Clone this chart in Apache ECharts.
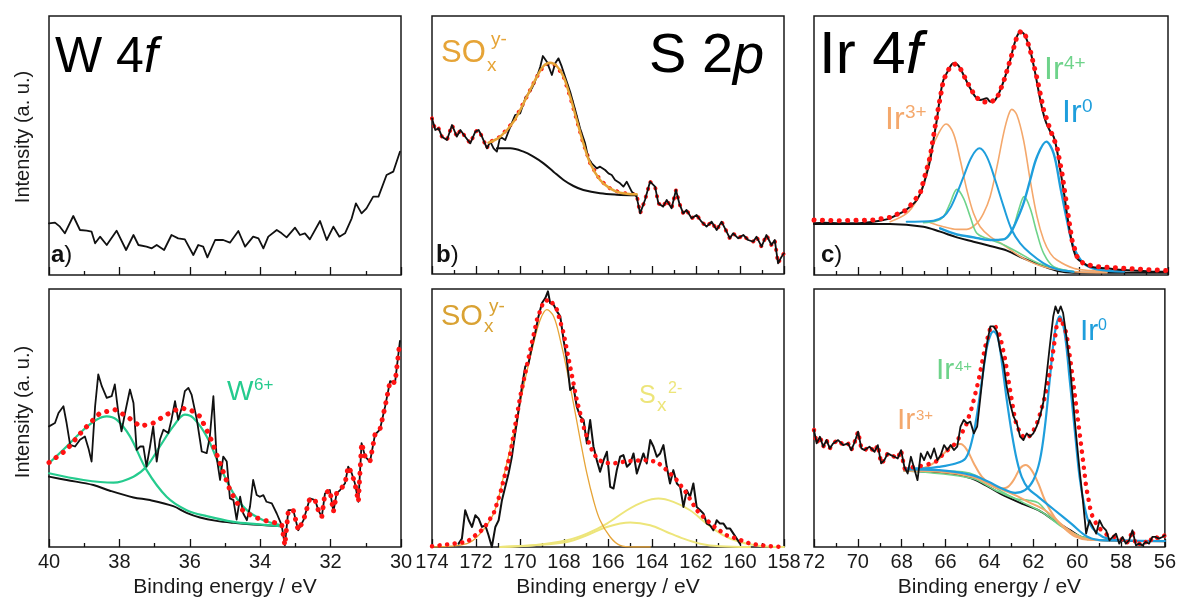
<!DOCTYPE html>
<html>
<head>
<meta charset="utf-8">
<script src="https://cdn.jsdelivr.net/npm/echarts@6/dist/echarts.min.js"></script>
<style>
html,body{margin:0;padding:0;background:#fff;}
#c{width:1179px;height:603px;}
</style>
</head>
<body>
<div id="c"></div>
<script>
// ---------- x-axis ranges (eV) ----------
const W_RANGE = [30, 40];
const S_RANGE = [158, 174];
const IR_RANGE = [56, 72];

// ---------- panel a : W 4f (top) ----------
const a_data = [[40.00,155],[39.83,157],[39.69,145],[39.55,125],[39.31,177],[39.12,135],[38.93,133],[38.79,130],[38.69,95],[38.55,115],[38.36,90],[38.08,133],[37.81,75],[37.60,120],[37.46,90],[37.23,85],[37.08,80],[36.94,90],[36.73,75],[36.52,120],[36.33,110],[36.14,107],[35.90,60],[35.76,90],[35.62,85],[35.50,53],[35.28,105],[35.05,105],[34.86,97],[34.62,132],[34.43,85],[34.20,115],[34.05,110],[33.91,80],[33.77,115],[33.53,135],[33.39,125],[33.25,113],[33.01,142],[32.87,120],[32.73,125],[32.59,107],[32.30,162],[32.11,105],[31.92,145],[31.75,115],[31.59,125],[31.40,170],[31.28,215],[31.12,185],[30.98,200],[30.79,235],[30.64,235],[30.41,300],[30.22,310],[30.03,370]];

// ---------- panel b : S 2p (top) ----------
const b_data = [[174.00,467],[173.85,432],[173.70,437],[173.55,412],[173.32,402],[173.09,447],[172.87,412],[172.71,432],[172.49,412],[172.26,392],[172.03,427],[171.88,432],[171.73,412],[171.50,377],[171.35,397],[171.20,377],[171.05,367],[170.90,412],[170.67,402],[170.44,442],[170.22,477],[169.99,482],[169.76,527],[169.46,557],[169.23,592],[169.08,622],[168.96,654],[168.78,637],[168.55,597],[168.40,632],[168.25,647],[168.10,622],[167.95,592],[167.72,547],[167.49,492],[167.27,437],[167.04,392],[166.89,347],[166.74,332],[166.51,317],[166.36,322],[166.13,312],[165.98,302],[165.83,297],[165.68,282],[165.45,272],[165.30,262],[165.15,277],[164.92,247],[164.70,232],[164.54,182],[164.32,222],[164.09,277],[163.86,262],[163.71,212],[163.49,202],[163.33,222],[163.11,197],[162.91,252],[162.76,212],[162.58,182],[162.43,192],[162.20,167],[161.97,177],[161.75,157],[161.52,142],[161.29,157],[161.06,132],[160.84,157],[160.61,127],[160.46,107],[160.31,122],[160.08,107],[159.85,117],[159.63,102],[159.40,97],[159.25,112],[159.02,82],[158.80,117],[158.57,87],[158.42,102],[158.27,32],[158.11,52],[158.00,62]];
const b_fit = [[171.43,394],[170.90,412],[170.29,457],[169.69,532],[169.23,592],[168.93,624],[168.63,634],[168.33,624],[168.02,592],[167.72,532],[167.42,462],[167.12,392],[166.81,332],[166.36,282],[165.91,257],[165.45,244],[164.70,239]];
const b_bkg = [[171.05,377],[170.44,377],[169.84,367],[169.39,352],[168.93,332],[168.48,307],[168.02,282],[167.57,264],[167.12,252],[166.36,242],[165.60,238],[164.70,236]];

// ---------- panel c : Ir 4f (top) ----------
const c_data = [[72.00,155],[71.58,157],[70.82,155],[70.07,155],[69.32,160],[68.86,165],[68.56,170],[68.26,180],[67.96,190],[67.66,205],[67.35,225],[67.13,255],[66.90,305],[66.75,345],[66.60,405],[66.45,465],[66.30,535],[66.15,585],[65.92,615],[65.70,635],[65.54,633],[65.39,620],[65.17,590],[64.94,560],[64.71,535],[64.49,525],[64.19,530],[64.04,520],[63.81,525],[63.58,555],[63.36,595],[63.13,645],[62.98,685],[62.83,715],[62.68,730],[62.53,725],[62.38,705],[62.23,675],[62.00,605],[61.77,525],[61.55,465],[61.32,430],[61.17,415],[61.02,375],[60.87,315],[60.72,255],[60.57,185],[60.42,125],[60.27,75],[60.11,50],[59.81,35],[59.51,25],[58.76,20],[58.00,15],[57.25,13],[56.49,10],[56.00,10]];
const c_env = [[72.00,165],[70.82,163],[69.32,165],[68.56,173],[67.81,195],[67.20,245],[66.75,355],[66.45,475],[66.15,585],[65.85,625],[65.62,633],[65.39,620],[65.09,580],[64.71,535],[64.41,520],[64.04,517],[63.73,530],[63.43,580],[63.13,645],[62.83,715],[62.65,732],[62.45,720],[62.23,675],[61.92,590],[61.62,495],[61.32,435],[61.02,385],[60.79,305],[60.57,205],[60.34,105],[60.11,55],[59.81,33],[59.21,25],[58.00,20],[56.00,13]];
const c_bkg = [[72.00,153],[68.56,153],[67.05,145],[66.30,130],[65.54,113],[64.79,100],[64.04,87],[63.28,73],[62.53,50],[61.77,30],[61.02,13],[60.27,7],[56.00,7]];
const c_ir3a = [[68.56,160],[67.81,185],[67.35,225],[67.05,275],[66.75,365],[66.37,425],[66.03,453],[65.70,425],[65.39,345],[65.09,255],[64.79,185],[64.49,145],[64.04,115],[63.43,90],[62.53,50],[61.62,25],[60.27,10],[58.76,7]];
const c_ir3b = [[66.75,157],[66.15,145],[65.54,137],[65.09,137],[64.64,155],[64.34,185],[64.04,235],[63.73,325],[63.43,425],[63.21,480],[63.06,497],[62.83,480],[62.53,405],[62.23,285],[61.92,175],[61.62,105],[61.32,65],[61.02,45],[60.27,20],[59.51,13],[58.76,10]];
const c_ir0a = [[67.81,160],[66.60,163],[66.15,175],[65.85,200],[65.54,245],[65.24,295],[64.87,355],[64.52,380],[64.19,355],[63.81,285],[63.43,205],[63.06,135],[62.68,95],[62.23,65],[61.62,35],[61.02,17],[60.27,10]];
const c_ir0b = [[66.30,140],[65.54,122],[64.79,113],[64.04,105],[63.43,107],[63.13,125],[62.83,165],[62.53,215],[62.23,285],[61.92,355],[61.50,400],[61.17,365],[60.87,265],[60.57,165],[60.27,85],[59.81,35],[59.21,17],[58.00,10]];
const c_ir4a = [[67.05,157],[66.45,163],[66.15,175],[65.85,215],[65.54,257],[65.24,230],[64.94,175],[64.64,125],[64.19,110],[63.58,95],[62.83,70],[61.77,33],[60.27,10]];
const c_ir4b = [[65.54,120],[64.79,113],[64.04,105],[63.43,107],[63.06,130],[62.75,195],[62.50,235],[62.23,200],[61.92,125],[61.62,65],[61.17,25],[60.27,10]];

// ---------- panel d : W 4f (bottom) ----------
const d_data = [[40.00,360],[39.83,370],[39.73,400],[39.59,420],[39.50,370],[39.40,305],[39.26,300],[39.12,320],[38.98,330],[38.88,295],[38.79,255],[38.69,420],[38.60,515],[38.50,480],[38.36,445],[38.22,450],[38.13,485],[38.03,400],[37.94,345],[37.84,400],[37.70,470],[37.60,430],[37.51,290],[37.41,300],[37.32,300],[37.23,240],[37.13,300],[37.04,360],[36.94,255],[36.85,320],[36.75,350],[36.61,340],[36.52,380],[36.42,435],[36.33,380],[36.23,415],[36.14,465],[36.04,475],[35.95,455],[35.80,380],[35.66,285],[35.52,280],[35.43,330],[35.33,450],[35.24,270],[35.14,200],[35.05,270],[34.95,255],[34.86,145],[34.76,140],[34.67,82],[34.57,150],[34.48,100],[34.38,80],[34.29,120],[34.20,200],[34.10,155],[34.01,150],[33.91,155],[33.82,135],[33.67,130],[33.53,100],[33.39,65],[33.30,5],[33.20,110],[33.06,110],[32.92,50],[32.77,80],[32.59,145],[32.44,140],[32.35,110],[32.25,90],[32.16,160],[32.02,170],[31.92,105],[31.83,160],[31.73,170],[31.59,190],[31.50,240],[31.40,220],[31.31,190],[31.21,135],[31.12,310],[31.02,270],[30.88,255],[30.74,335],[30.60,350],[30.45,420],[30.31,495],[30.17,490],[30.03,615]];
const d_env = [[40.00,252],[39.50,290],[39.02,350],[38.55,400],[38.13,410],[37.79,390],[37.41,360],[37.04,370],[36.66,395],[36.28,415],[35.99,410],[35.71,390],[35.43,330],[35.14,250],[34.86,170],[34.57,115],[34.20,90],[33.82,78],[33.39,68]];
const d_w6a = [[40.00,250],[39.50,300],[39.02,350],[38.65,380],[38.36,390],[38.08,380],[37.70,330],[37.23,230],[36.66,150],[36.09,110],[35.52,92],[34.76,75],[34.10,68],[33.39,62]];
const d_w6b = [[40.00,220],[39.02,200],[38.17,192],[37.60,210],[37.23,240],[36.85,300],[36.47,360],[36.14,395],[35.90,385],[35.52,330],[35.14,240],[34.76,160],[34.38,110],[33.91,80],[33.39,65]];
const d_bkg = [[40.00,210],[39.50,200],[38.74,185],[38.27,168],[37.60,148],[37.13,140],[36.47,122],[36.09,102],[35.71,88],[35.24,78],[34.76,72],[34.20,67],[33.39,62]];

// ---------- panel e : S 2p (bottom) ----------
const e_data = [[172.79,10],[172.64,25],[172.49,110],[172.33,80],[172.18,60],[172.03,95],[171.88,85],[171.73,60],[171.58,65],[171.43,35],[171.28,0],[171.12,60],[170.97,80],[170.82,140],[170.67,180],[170.52,220],[170.37,270],[170.22,340],[170.06,410],[169.91,480],[169.76,540],[169.61,550],[169.46,600],[169.31,640],[169.16,690],[169.00,730],[168.85,745],[168.73,765],[168.63,730],[168.47,725],[168.32,705],[168.17,690],[168.02,620],[167.87,560],[167.72,470],[167.57,480],[167.42,420],[167.26,390],[167.11,380],[166.96,310],[166.81,380],[166.66,300],[166.51,260],[166.36,225],[166.20,260],[166.05,285],[165.90,180],[165.75,175],[165.60,230],[165.45,270],[165.30,275],[165.14,240],[164.99,250],[164.84,280],[164.69,220],[164.54,250],[164.39,280],[164.24,250],[164.08,320],[163.93,300],[163.78,270],[163.63,280],[163.48,305],[163.33,240],[163.18,190],[163.03,230],[162.87,190],[162.72,180],[162.57,120],[162.42,170],[162.27,150],[162.12,190],[161.97,120],[161.81,110],[161.66,100],[161.51,70],[161.36,65],[161.21,50],[161.06,80],[160.91,70],[160.75,70],[160.60,55],[160.45,55],[160.30,40],[160.15,25],[160.00,10]];
const e_env = [[174.00,2],[172.41,15],[171.65,55],[171.20,100],[170.90,160],[170.44,280],[169.99,450],[169.53,590],[169.23,680],[168.93,735],[168.63,740],[168.32,710],[168.02,640],[167.72,540],[167.42,440],[167.11,360],[166.81,300],[166.51,265],[166.20,252],[165.75,250],[165.30,255],[164.84,258],[164.24,260],[163.78,255],[163.33,230],[162.87,200],[162.42,160],[161.97,110],[161.51,80],[161.06,55],[160.60,35],[160.15,25],[159.54,10],[158.79,3],[158.00,0]];
const e_sox = [[174.00,0],[172.41,10],[171.81,40],[171.20,100],[170.75,210],[170.29,340],[169.84,480],[169.38,610],[169.08,680],[168.78,710],[168.47,690],[168.17,620],[167.87,530],[167.57,430],[167.26,320],[166.96,220],[166.66,140],[166.36,80],[165.90,30],[165.45,5],[164.84,0],[164.08,0]];
const e_sxa = [[170.90,0],[169.38,5],[167.87,20],[166.96,40],[166.05,70],[165.14,110],[164.39,135],[163.71,145],[163.03,135],[162.27,110],[161.51,70],[160.75,35],[160.00,15],[159.09,3],[158.00,0]];
const e_sxb = [[170.90,0],[169.38,5],[167.87,15],[166.96,35],[166.05,60],[164.99,73],[164.08,65],[163.33,45],[162.57,25],[161.81,10],[160.91,2],[159.54,0]];

// ---------- panel f : Ir 4f (bottom) ----------
const f_data = [[72.00,350],[71.88,310],[71.73,330],[71.58,300],[71.43,320],[71.28,295],[71.13,310],[70.90,320],[70.67,305],[70.45,310],[70.30,290],[70.14,315],[69.99,345],[69.84,295],[69.69,290],[69.47,300],[69.24,285],[69.09,305],[68.94,250],[68.79,260],[68.64,280],[68.49,275],[68.33,270],[68.18,265],[68.03,290],[67.88,240],[67.73,220],[67.58,270],[67.43,235],[67.28,200],[67.13,280],[66.98,260],[66.83,285],[66.68,265],[66.52,295],[66.37,260],[66.22,275],[66.07,305],[65.92,290],[65.77,305],[65.62,290],[65.47,300],[65.32,360],[65.17,380],[65.02,370],[64.87,375],[64.71,340],[64.56,360],[64.41,450],[64.26,540],[64.11,610],[63.96,660],[63.81,660],[63.66,645],[63.51,590],[63.36,550],[63.21,480],[63.06,430],[62.90,390],[62.75,370],[62.60,330],[62.45,320],[62.30,340],[62.15,330],[62.00,340],[61.85,360],[61.70,390],[61.55,430],[61.40,510],[61.25,600],[61.09,690],[60.99,720],[60.87,700],[60.75,720],[60.64,700],[60.49,630],[60.34,550],[60.19,440],[60.04,330],[59.89,230],[59.74,140],[59.59,40],[59.44,80],[59.28,60],[59.13,40],[58.98,80],[58.83,60],[58.68,50],[58.53,20],[58.38,30],[58.23,40],[58.08,10],[57.93,30],[57.78,10],[57.63,20],[57.48,50],[57.32,5],[57.17,10],[57.02,5],[56.87,15],[56.72,10],[56.57,30],[56.42,30],[56.27,25],[56.12,30],[56.00,35]];
const f_env = [[67.88,235],[67.35,240],[66.90,245],[66.45,255],[66.00,285],[65.54,310],[65.09,360],[64.79,420],[64.49,500],[64.19,600],[63.96,655],[63.73,660],[63.51,630],[63.28,560],[63.06,470],[62.83,380],[62.60,340],[62.38,325],[62.08,335],[61.77,380],[61.47,450],[61.17,550],[60.94,660],[60.75,685],[60.49,640],[60.27,540],[60.04,420],[59.81,300],[59.59,180],[59.36,100],[59.06,60],[58.61,35],[58.00,25]];
const f_bkg = [[67.88,228],[67.05,226],[66.30,223],[65.54,218],[64.79,205],[64.04,180],[63.28,152],[62.53,130],[61.77,110],[61.02,78],[60.27,48],[59.81,30],[59.21,22],[58.00,19],[56.00,17]];
const f_ir0a = [[67.88,235],[67.05,235],[66.30,240],[65.54,250],[65.09,265],[64.79,320],[64.56,400],[64.34,500],[64.11,600],[63.93,638],[63.81,645],[63.61,625],[63.43,550],[63.21,440],[62.98,340],[62.75,260],[62.53,210],[62.23,175],[61.77,150],[61.02,110],[60.27,70],[59.51,30],[58.76,20],[58.00,20]];
const f_ir0b = [[67.88,232],[66.30,230],[64.79,215],[64.04,195],[63.43,175],[62.83,162],[62.38,170],[62.00,200],[61.70,260],[61.47,360],[61.25,500],[61.02,640],[60.79,690],[60.57,640],[60.34,500],[60.11,350],[59.89,210],[59.66,120],[59.44,70],[59.06,40],[58.61,25],[58.00,20],[56.00,18]];
const f_ir3a = [[67.88,230],[67.05,235],[66.45,255],[66.00,285],[65.62,305],[65.32,308],[65.02,290],[64.71,250],[64.34,210],[63.88,185],[63.43,172],[62.83,155],[62.23,135],[61.47,110],[60.57,60],[59.81,28],[58.76,20]];
const f_ir3b = [[67.88,228],[66.30,225],[64.79,210],[64.04,188],[63.58,175],[63.21,178],[62.90,200],[62.60,235],[62.35,245],[62.08,230],[61.77,190],[61.47,140],[61.02,88],[60.57,55],[60.11,32],[59.51,22],[58.00,20]];
const f_ir4a = [[67.88,230],[66.30,228],[65.24,225],[64.64,215],[64.04,190],[63.28,160],[62.53,135],[61.62,105],[60.57,55],[59.51,22]];
const f_ir4b = [[67.88,228],[64.79,205],[63.73,170],[62.83,145],[62.23,140],[61.77,132],[61.32,100],[60.72,65],[59.96,35],[59.21,22]];

// y-extent of each panel's plot box (a.u.)
const Y_MAX = [777, 774, 777, 770, 772, 772];

// ---------- colours ----------
const C_BLACK = '#111111', C_RED = '#ff1212';
const C_SOX = '#E6A437', C_SX = '#EDE57A', C_W6 = '#25CB8E';
const C_IR0 = '#1E9EDC', C_IR3 = '#F4A86C', C_IR4 = '#6ED38A';

const FONT = '"Liberation Sans", Arial, sans-serif';

const grids = [
  {left:49, top:16, width:352, height:259},
  {left:432, top:16, width:352, height:258},
  {left:814, top:16, width:354, height:259},
  {left:49, top:289, width:352, height:258},
  {left:432, top:289, width:352, height:258},
  {left:814, top:289, width:354, height:258}
].map(g => Object.assign(g, {show:true, borderColor:'#1a1a1a', borderWidth:1.5, backgroundColor:'#fff'}));

const ranges = [W_RANGE, S_RANGE, IR_RANGE, W_RANGE, S_RANGE, IR_RANGE];
const xAxes = ranges.map((r, i) => {
  const bottom = i >= 3;
  return {
    type:'value', gridIndex:i, min:r[0], max:r[1], interval:2, inverse:true,
    axisLine:{show:false},
    axisTick:{show:true, inside:true, length:8, lineStyle:{color:'#111', width:1.3}},
    minorTick:{show:true, splitNumber:2, length:4, lineStyle:{color:'#111', width:1.3}},
    splitLine:{show:false}, minorSplitLine:{show:false},
    axisLabel:{show:bottom, showMinLabel:true, showMaxLabel:true, fontSize:20, color:'#1a1a1a', margin:5, fontFamily:FONT},
    name: bottom ? 'Binding energy / eV' : '',
    nameLocation:'middle', nameGap:30,
    nameTextStyle:{fontSize:21, color:'#1a1a1a', fontFamily:FONT}
  };
});
const yAxes = Y_MAX.map((m, i) => ({type:'value', gridIndex:i, min:0, max:m, show:false}));

function ln(gi, data, color, width, z, smooth) {
  return {type:'line', xAxisIndex:gi, yAxisIndex:gi, data:data, symbol:'none', showSymbol:false,
    smooth: smooth ? 0.35 : false, silent:true, z:z, animation:false,
    lineStyle:{color:color, width:width, join:'round', cap:'round'}};
}
function dots(gi, data, z, w, gap) {
  return {type:'line', xAxisIndex:gi, yAxisIndex:gi, data:data, symbol:'none', showSymbol:false,
    smooth:false, silent:true, z:z, animation:false,
    lineStyle:{color:C_RED, width:w || 4.5, type:[0.1, gap || 8], cap:'round', join:'round'}};
}

// red total-fit series built from data + envelope arrays
const bRed = b_data.filter(p => p[0] > b_fit[0][0]).concat(b_fit, b_data.filter(p => p[0] < b_fit[b_fit.length-1][0]));
const dRed = d_env.concat(d_data.filter(p => p[0] < d_env[d_env.length-1][0]));
const fRed = f_data.filter(p => p[0] > f_env[0][0]).concat(f_env, f_data.filter(p => p[0] < f_env[f_env.length-1][0]));

const series = [
  // a
  ln(0, a_data, C_BLACK, 1.8, 5, false),
  // b
  dots(1, bRed, 3, 4, 8),
  ln(1, b_data, C_BLACK, 1.8, 4, false),
  ln(1, b_bkg, C_BLACK, 2, 4, true),
  ln(1, b_fit, C_SOX, 2.5, 6, true),
  // c
  ln(2, c_bkg, C_BLACK, 2, 3, true),
  ln(2, c_ir3a, C_IR3, 1.6, 3, true),
  ln(2, c_ir3b, C_IR3, 1.6, 3, true),
  ln(2, c_ir4a, C_IR4, 1.6, 3, true),
  ln(2, c_ir4b, C_IR4, 1.6, 3, true),
  ln(2, c_ir0a, C_IR0, 2, 3, true),
  ln(2, c_ir0b, C_IR0, 2.4, 3, true),
  ln(2, c_data, C_BLACK, 2, 4, true),
  dots(2, c_env, 5, 5, 8.3),
  // d
  ln(3, d_bkg, C_BLACK, 2, 3, true),
  ln(3, d_w6a, C_W6, 2.2, 3, true),
  ln(3, d_w6b, C_W6, 2.2, 3, true),
  ln(3, d_data, C_BLACK, 1.8, 4, false),
  dots(3, dRed, 5, 5, 8.6),
  // e
  ln(4, e_sxa, C_SX, 2, 3, true),
  ln(4, e_sxb, C_SX, 2, 3, true),
  ln(4, e_sox, C_SOX, 1.3, 3, true),
  ln(4, e_data, C_BLACK, 2, 4, false),
  dots(4, e_env, 5, 4.5, 7.5),
  // f
  ln(5, f_bkg, C_BLACK, 2, 3, true),
  ln(5, f_ir4a, C_IR4, 1.6, 3, true),
  ln(5, f_ir4b, C_IR4, 1.6, 3, true),
  ln(5, f_ir3a, C_IR3, 2, 3, true),
  ln(5, f_ir3b, C_IR3, 2, 3, true),
  ln(5, f_ir0a, C_IR0, 2.2, 3, true),
  ln(5, f_ir0b, C_IR0, 2.2, 3, true),
  dots(5, fRed, 4, 4.5, 8),
  ln(5, f_data, C_BLACK, 1.8, 5, false)
];

// ---------- text ----------
function t(x, y, text, size, color, extra) {
  return {type:'text', x:x, y:y, z:100, silent:true,
    style:Object.assign({text:text, fill:color, fontSize:size, fontFamily:FONT,
      align:'left', verticalAlign:'middle', textAlign:'left', textVerticalAlign:'middle'}, extra || {})};
}
function rt(x, y, text, size, color, rich) {
  return {type:'text', x:x, y:y, z:100, silent:true,
    style:{text:text, fill:color, fontSize:size, fontFamily:FONT, align:'left', verticalAlign:'middle',
      textAlign:'left', textVerticalAlign:'middle', rich:rich}};
}
const titleRich = (size) => ({
  n:{fontSize:size, fontFamily:FONT, fill:'#000'},
  i:{fontSize:size, fontFamily:FONT, fill:'#000', fontStyle:'italic'}
});
const lblRich = {
  b:{fontSize:24, fontFamily:FONT, fontWeight:'bold', fill:'#111'},
  n:{fontSize:24, fontFamily:FONT, fill:'#111'}
};

const graphics = [
  rt(55, 58, '{n|W 4}{i|f}', 50, '#000', titleRich(50)),
  rt(649, 57, '{n|S 2}{i|p}', 56, '#000', titleRich(56)),
  rt(819, 56, '{n|Ir 4}{i|f}', 60, '#000', titleRich(60)),
  rt(51, 255, '{b|a}{n|)}', 24, '#111', lblRich),
  rt(436, 255, '{b|b}{n|)}', 24, '#111', lblRich),
  rt(821, 255, '{b|c}{n|)}', 24, '#111', lblRich),
  {type:'text', x:23, y:137, rotation:Math.PI/2, z:100, silent:true,
    style:{text:'Intensity (a. u.)', fill:'#1a1a1a', fontSize:20, fontFamily:FONT, align:'center', verticalAlign:'middle', textAlign:'center', textVerticalAlign:'middle'}},
  {type:'text', x:23, y:412, rotation:Math.PI/2, z:100, silent:true,
    style:{text:'Intensity (a. u.)', fill:'#1a1a1a', fontSize:20, fontFamily:FONT, align:'center', verticalAlign:'middle', textAlign:'center', textVerticalAlign:'middle'}},
  // b label
  t(441, 53, 'SO', 31, C_SOX), t(487, 66, 'x', 19, C_SOX), t(491, 40, 'y-', 19, C_SOX),
  // c labels
  t(885, 120, 'Ir', 32, C_IR3), t(905, 113, '3+', 19, C_IR3),
  t(1044, 70, 'Ir', 32, C_IR4), t(1064, 64, '4+', 19, C_IR4),
  t(1062, 113, 'Ir', 32, C_IR0), t(1082, 107, '0', 19, C_IR0),
  // d label
  t(227, 392, 'W', 28, C_W6), t(254, 385, '6+', 17, C_W6),
  // e labels
  t(441, 317, 'SO', 29, '#D9A233'), t(484, 327, 'x', 19, '#D9A233'), t(489, 307, 'y-', 19, '#D9A233'),
  t(639, 396, 'S', 25, C_SX), t(657, 406, 'x', 19, C_SX), t(668, 389, '2-', 16, C_SX),
  // f labels
  t(936, 371, 'Ir', 30, C_IR4), t(955, 367, '4+', 15, C_IR4),
  t(897, 421, 'Ir', 30, C_IR3), t(916, 416, '3+', 15, C_IR3),
  t(1080, 332, 'Ir', 30, C_IR0), t(1098, 326, '0', 16, C_IR0)
];

const chart = echarts.init(document.getElementById('c'), null, {renderer:'canvas'});
chart.setOption({
  animation:false,
  backgroundColor:'#fff',
  grid:grids, xAxis:xAxes, yAxis:yAxes, series:series, graphic:graphics
});
</script>
</body>
</html>
